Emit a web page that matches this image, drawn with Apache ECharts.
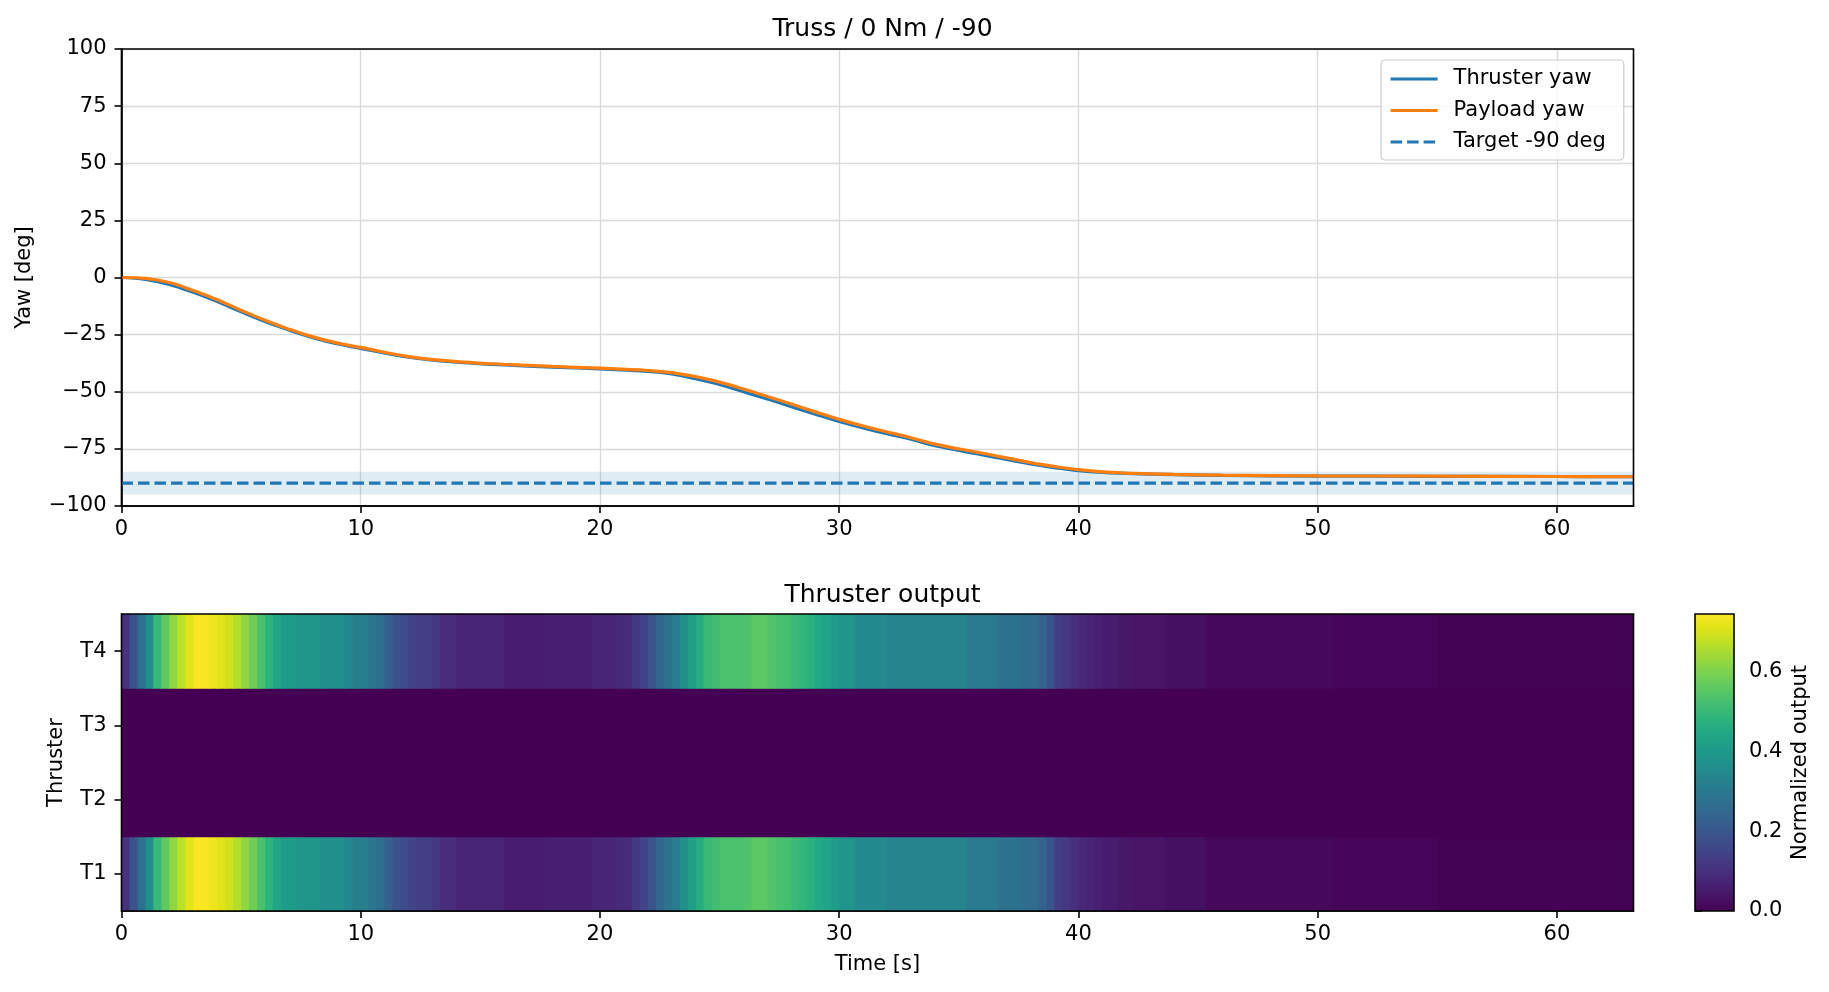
<!DOCTYPE html>
<html>
<head>
<meta charset="utf-8">
<title>Truss / 0 Nm / -90</title>
<script src="https://cdn.jsdelivr.net/npm/echarts@6/dist/echarts.min.js"></script>
<style>
html, body { margin: 0; padding: 0; background: #fff; }
#chart { width: 1829px; height: 992px; }
</style>
</head>
<body>
<div id="chart"></div>
<script>
// time axis
var tEnd = 63.2;
var timeTicks = [0, 10, 20, 30, 40, 50, 60];

// yaw traces (deg)
var yawTime = [0, 1, 2, 3, 4, 5, 6, 7, 8, 9, 10, 12, 14, 16, 18, 20, 22, 23, 24, 25,
	26, 27, 28, 29, 30, 31, 32, 33, 34, 36, 38, 39, 40, 41, 42, 44, 46, 50, 55, 60, 63.2];
var thrusterYaw = [0, -0.8, -3, -6.5, -10.5, -15, -19.3, -23, -26.3, -29, -31, -34.9, -37.1, -38.3, -39.2, -40, -41.1, -42.2, -44.3, -46.8,
	-50, -53.2, -56.5, -59.8, -63, -65.8, -68.4, -70.8, -73.6, -77.6, -81.6, -83.2, -84.5, -85.3, -85.7, -86.3, -86.6, -86.9, -87, -87.1, -87.2];
var payloadYaw = [0, -0.4, -2.2, -5.7, -9.7, -14.3, -18.7, -22.6, -26, -28.6, -30.6, -34.6, -36.8, -38, -38.9, -39.7, -40.7, -41.6, -43.4, -45.8,
	-48.8, -52.1, -55.4, -58.8, -62.1, -65, -67.6, -70.1, -72.9, -76.9, -81, -82.7, -84.1, -85.1, -85.6, -86.2, -86.5, -86.8, -86.9, -87.1, -87.2];
var targetYaw = -90;
var targetBand = [-95, -85];

// thruster output (normalized), piecewise constant from each start time
var thrusterNames = ['T1', 'T2', 'T3', 'T4'];
var outStart = [0, 0.33, 0.67, 1.00, 1.33, 1.67, 2.00, 2.33, 2.67, 3.00, 3.67, 4.00, 4.33, 4.67, 5.00, 5.33, 5.67, 6.00, 6.33, 6.67,
	7.33, 8.33, 9.33, 9.67, 10.33, 10.67, 11.00, 11.33, 11.67, 12.00, 12.33, 13.00, 13.33, 14.00, 16.00, 17.67, 19.67, 20.67, 21.33, 21.67,
	22.00, 22.33, 22.67, 23.00, 23.33, 23.67, 24.00, 24.33, 24.67, 25.00, 26.00, 26.33, 27.00, 27.33, 27.67, 28.00, 28.33, 28.67, 29.00, 29.33,
	29.67, 30.00, 30.67, 32.00, 35.33, 36.67, 37.67, 38.33, 38.67, 39.00, 39.33, 39.67, 40.00, 40.33, 40.67, 41.00, 41.67, 42.33, 43.67, 45.33,
	50.67, 55.00];
var outT1 = [0.11, 0.19, 0.28, 0.37, 0.50, 0.56, 0.62, 0.67, 0.71, 0.74, 0.725, 0.71, 0.69, 0.66, 0.62, 0.58, 0.53, 0.48, 0.44, 0.41,
	0.39, 0.37, 0.34, 0.32, 0.29, 0.27, 0.23, 0.19, 0.165, 0.15, 0.135, 0.115, 0.095, 0.075, 0.06, 0.065, 0.08, 0.09, 0.12, 0.15,
	0.19, 0.245, 0.275, 0.31, 0.37, 0.415, 0.46, 0.50, 0.515, 0.53, 0.535, 0.555, 0.54, 0.53, 0.52, 0.505, 0.49, 0.47, 0.445, 0.43,
	0.41, 0.385, 0.355, 0.335, 0.305, 0.28, 0.26, 0.23, 0.19, 0.135, 0.12, 0.10, 0.085, 0.075, 0.065, 0.055, 0.045, 0.04, 0.03, 0.015,
	0.008, 0.003];
var outT4 = outT1.slice(); // T4 reads the same as T1
var idleStart = [0];
var outT2 = [0];
var outT3 = [0];
var cbarMax = 0.744;
var cbarTicks = [0, 0.2, 0.4, 0.6];

var VIRIDIS = ['#440154', '#471365', '#482475', '#463480', '#414487', '#3b528b', '#355f8d', '#2f6c8e', '#2a788e', '#25848e', '#21918c',
	'#1e9c89', '#22a884', '#2fb47c', '#44bf70', '#5ec962', '#7ad151', '#9bd93c', '#bddf26', '#dfe318', '#fde725'];
var FONT = 'DejaVu Sans';
var BLUE = '#1f77b4', ORANGE = '#ff7f0e';

function pairs(xs, ys) {
	return xs.map(function (x, i) { return [x, ys[i]]; });
}
function minusFmt(v) {
	return v < 0 ? '\u2212' + Math.abs(v) : String(v);
}

// cells: [start, end, row, value]
var rows = [[outStart, outT1], [idleStart, outT2], [idleStart, outT3], [outStart, outT4]];
var cells = [];
rows.forEach(function (r, ri) {
	r[0].forEach(function (s, i) {
		var e = i + 1 < r[0].length ? r[0][i + 1] : tEnd;
		cells.push([s, e, ri, r[1][i]]);
	});
});

function renderCell(params, api) {
	var p0 = api.coord([api.value(0), api.value(2)]);
	var p1 = api.coord([api.value(1), api.value(2)]);
	var h = api.size([0, 1])[1];
	var f = Math.min(1, Math.max(0, api.value(3) / cbarMax));
	return {
		type: 'rect',
		shape: { x: p0[0], y: p0[1] - h / 2 - 0.5, width: p1[0] - p0[0] + 1, height: h + 1 },
		style: { fill: echarts.color.lerp(f, VIRIDIS) }
	};
}

function renderBar(params, api) {
	var p0 = api.coord([api.value(0), api.value(2)]);
	var p1 = api.coord([api.value(1), api.value(3)]);
	return {
		type: 'rect',
		shape: { x: p0[0], y: p1[1], width: p1[0] - p0[0], height: p0[1] - p1[1] },
		style: {
			fill: {
				type: 'linear', x: 0, y: 1, x2: 0, y2: 0,
				colorStops: VIRIDIS.map(function (c, i) { return { offset: i / (VIRIDIS.length - 1), color: c }; })
			},
			stroke: '#000',
			lineWidth: 1.6
		}
	};
}

var axisLineK = { show: true, onZero: false, lineStyle: { color: '#000', width: 1.6 } };
var tickK = { show: true, length: 7, lineStyle: { color: '#000', width: 1.6 } };
var labelK = { color: '#000', fontSize: 21, fontFamily: FONT };
var nameK = { color: '#000', fontSize: 21, fontFamily: FONT };
var gridLine = { show: true, lineStyle: { color: '#dadada', width: 1.4 } };

var option = {
	animation: false,
	backgroundColor: '#fff',
	textStyle: { fontFamily: FONT },
	title: [
		{ text: 'Truss / 0 Nm / -90', left: 877.5, top: 12, textAlign: 'center',
			textStyle: { fontSize: 25, fontWeight: 'normal', color: '#000', fontFamily: FONT } },
		{ text: 'Thruster output', left: 877.5, top: 578, textAlign: 'center',
			textStyle: { fontSize: 25, fontWeight: 'normal', color: '#000', fontFamily: FONT } }
	],
	legend: {
		left: 1381, top: 60, orient: 'vertical',
		itemWidth: 47, itemHeight: 14, itemGap: 9.5,
		padding: [8, 18, 7, 8],
		backgroundColor: 'rgba(255,255,255,0.8)',
		borderColor: '#cccccc', borderWidth: 1.2, borderRadius: 4,
		itemStyle: { opacity: 0 },
		lineStyle: { width: 3.2 },
		textStyle: { fontSize: 21, color: '#000', fontFamily: FONT, lineHeight: 22, padding: [0, 0, 0, 11] },
		data: ['Thruster yaw', 'Payload yaw', 'Target -90 deg']
	},
	grid: [
		{ left: 121.5, top: 49, width: 1512, height: 457, show: true, borderColor: '#000', borderWidth: 1.6, z: 10, outerBoundsMode: 'none' },
		{ left: 121.5, top: 614, width: 1512, height: 297, show: true, borderColor: '#000', borderWidth: 1.6, z: 10, outerBoundsMode: 'none' },
		{ left: 1695, top: 614, width: 39, height: 297, outerBoundsMode: 'none' }
	],
	xAxis: [
		{ gridIndex: 0, type: 'value', min: 0, max: tEnd,
			axisLine: axisLineK, axisTick: Object.assign({ customValues: timeTicks }, tickK),
			axisLabel: Object.assign({ customValues: timeTicks, margin: 13 }, labelK),
			splitLine: gridLine },
		{ gridIndex: 1, type: 'value', min: 0, max: tEnd,
			axisLine: axisLineK, axisTick: Object.assign({ customValues: timeTicks }, tickK),
			axisLabel: Object.assign({ customValues: timeTicks, margin: 13 }, labelK),
			splitLine: { show: false },
			name: 'Time [s]', nameLocation: 'middle', nameGap: 43, nameTextStyle: nameK },
		{ gridIndex: 2, type: 'value', min: 0, max: 1, show: false }
	],
	yAxis: [
		{ gridIndex: 0, type: 'value', min: -100, max: 100, interval: 25,
			axisLine: axisLineK, axisTick: tickK,
			axisLabel: Object.assign({ formatter: minusFmt, margin: 15 }, labelK),
			splitLine: gridLine,
			name: 'Yaw [deg]', nameLocation: 'middle', nameGap: 86, nameTextStyle: nameK },
		{ gridIndex: 1, type: 'category', data: thrusterNames,
			axisLine: axisLineK, axisTick: Object.assign({ alignWithLabel: true }, tickK),
			axisLabel: Object.assign({ margin: 15 }, labelK),
			splitLine: { show: false },
			name: 'Thruster', nameLocation: 'middle', nameGap: 54, nameTextStyle: nameK },
		{ gridIndex: 2, type: 'value', position: 'right', min: 0, max: cbarMax,
			axisLine: { show: false },
			axisTick: Object.assign({ customValues: cbarTicks }, tickK),
			axisLabel: Object.assign({ customValues: cbarTicks, margin: 15,
				formatter: function (v) { return v.toFixed(1); } }, labelK),
			splitLine: { show: false },
			name: 'Normalized output', nameLocation: 'middle', nameGap: 56, nameRotate: 90, nameTextStyle: nameK }
	],
	series: [
		{ name: 'Thruster yaw', type: 'line', xAxisIndex: 0, yAxisIndex: 0,
			data: pairs(yawTime, thrusterYaw), symbol: 'none', smooth: 0.4,
			color: BLUE, lineStyle: { color: BLUE, width: 3.2 }, z: 3 },
		{ name: 'Payload yaw', type: 'line', xAxisIndex: 0, yAxisIndex: 0,
			data: pairs(yawTime, payloadYaw), symbol: 'none', smooth: 0.4,
			color: ORANGE, lineStyle: { color: ORANGE, width: 3.2 }, z: 4 },
		{ name: 'Target -90 deg', type: 'line', xAxisIndex: 0, yAxisIndex: 0,
			data: [[0, targetYaw], [tEnd, targetYaw]], symbol: 'none',
			color: BLUE, lineStyle: { color: BLUE, width: 3.2, type: [11.5, 5] }, z: 3,
			markArea: {
				silent: true,
				itemStyle: { color: 'rgba(31,119,180,0.14)' },
				data: [[{ xAxis: 0, yAxis: targetBand[0] }, { xAxis: tEnd, yAxis: targetBand[1] }]]
			} },
		{ name: 'output', type: 'custom', xAxisIndex: 1, yAxisIndex: 1,
			data: cells, encode: { x: [0, 1], y: 2 }, renderItem: renderCell, clip: true, silent: true },
		{ name: 'colorbar', type: 'custom', xAxisIndex: 2, yAxisIndex: 2,
			data: [[0, 1, 0, cbarMax]], encode: { x: [0, 1], y: [2, 3] }, renderItem: renderBar, silent: true, z: 5 }
	]
};

var chart = echarts.init(document.getElementById('chart'));
chart.setOption(option);
</script>
</body>
</html>
